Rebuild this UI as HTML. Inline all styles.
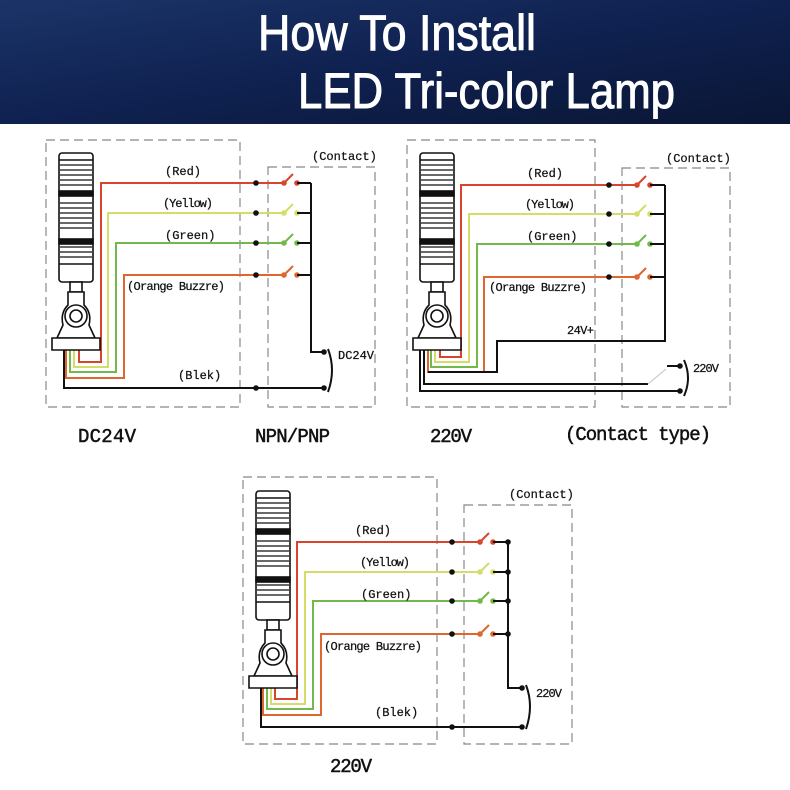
<!DOCTYPE html>
<html><head><meta charset="utf-8"><style>
html,body{margin:0;padding:0;background:#fff}
svg{display:block}
.l{font-family:"Liberation Mono",monospace;font-size:12px;fill:#111;stroke:#111;stroke-width:0.25}
.b{font-family:"Liberation Mono",monospace;font-size:19px;fill:#111;stroke:#111;stroke-width:0.5}
.d{fill:none;stroke:#888;stroke-width:1.2;stroke-dasharray:9 5}
.w{fill:none;stroke-width:2}
.k{stroke:#111}
.r{stroke:#d9452c}.y{stroke:#d6dc6a}.g{stroke:#72b84a}.o{stroke:#e0662f}
</style></head><body>
<svg width="790" height="790" viewBox="0 0 790 790" xmlns="http://www.w3.org/2000/svg">
<defs>
<linearGradient id="hg" x1="0" y1="0" x2="1" y2="1">
<stop offset="0" stop-color="#1b3468"/><stop offset="0.5" stop-color="#0f2150"/><stop offset="1" stop-color="#0a1635"/>
</linearGradient>
<g id="lamp" fill="#fff" stroke="#111" stroke-width="1.6">
<rect x="0" y="0" width="34" height="129" rx="3"/>
<line x1="0" y1="7" x2="34" y2="7"/>
<g stroke-width="1.2">
<line x1="1" y1="12" x2="33" y2="12"/><line x1="1" y1="17" x2="33" y2="17"/><line x1="1" y1="22" x2="33" y2="22"/><line x1="1" y1="27" x2="33" y2="27"/><line x1="1" y1="32" x2="33" y2="32"/>
<line x1="1" y1="50" x2="33" y2="50"/><line x1="1" y1="55" x2="33" y2="55"/><line x1="1" y1="60" x2="33" y2="60"/><line x1="1" y1="65" x2="33" y2="65"/><line x1="1" y1="70" x2="33" y2="70"/><line x1="1" y1="75" x2="33" y2="75"/>
<line x1="1" y1="94" x2="33" y2="94"/><line x1="1" y1="99" x2="33" y2="99"/><line x1="1" y1="104" x2="33" y2="104"/>
</g>
<rect x="0" y="38" width="34" height="5" fill="#111"/>
<rect x="0" y="86" width="34" height="5" fill="#111"/>
<line x1="0" y1="111" x2="34" y2="111"/>
<rect x="11" y="129" width="12" height="10"/>
<path d="M9 139 H25 V152 Q33 160 30 172 L36 185 H-2 L4 172 Q1 160 9 152 Z"/>
<circle cx="17" cy="163" r="11"/><circle cx="17" cy="163" r="6"/>
<path d="M-7 185 H41 V197 H-7 Z"/>
</g>
<g id="sw">
<circle cx="0" cy="0" r="2.8"/><circle cx="13" cy="0" r="2.8"/>
</g>
</defs>
<rect x="0" y="0" width="790" height="124" fill="url(#hg)"/>
<text x="258" y="50" font-family="Liberation Sans,sans-serif" font-size="50" fill="#fff" stroke="#fff" stroke-width="1" textLength="278" lengthAdjust="spacingAndGlyphs">How To Install</text>
<text x="298" y="108" font-family="Liberation Sans,sans-serif" font-size="50" fill="#fff" stroke="#fff" stroke-width="1" textLength="377" lengthAdjust="spacingAndGlyphs">LED Tri-color Lamp</text>

<!-- Panel 1 -->
<rect class="d" x="46" y="140" width="194" height="267"/>
<rect class="d" x="268" y="167" width="107" height="240"/>
<text class="l" x="312" y="160">(Contact)</text>
<path class="w r" d="M79 350 V362 H101 V183 H284"/>
<path class="w y" d="M74 350 V367 H108 V213 H284"/>
<path class="w g" d="M70 350 V372 H116 V243 H284"/>
<path class="w o" d="M66 350 V378 H124 V275 H284"/>
<path class="w r" d="M284 183 L293 174"/><path class="w y" d="M284 213 L293 204"/><path class="w g" d="M284 243 L293 234"/><path class="w o" d="M284 275 L293 266"/>
<g fill="#d9452c"><use href="#sw" x="284" y="183"/></g><g fill="#d6dc6a"><use href="#sw" x="284" y="213"/></g><g fill="#72b84a"><use href="#sw" x="284" y="243"/></g><g fill="#e0662f"><use href="#sw" x="284" y="275"/></g>
<path class="w k" d="M297 183 H311 M297 213 H311 M297 243 H311 M297 275 H311 M311 183 V352 H324"/>
<path class="w k" d="M64 350 V388 H324"/>
<path class="w k" d="M328 349 Q336 370 328 392"/>
<g fill="#111"><circle cx="256" cy="183" r="2.8"/><circle cx="256" cy="213" r="2.8"/><circle cx="256" cy="243" r="2.8"/><circle cx="256" cy="275" r="2.8"/><circle cx="256" cy="388" r="2.8"/><circle cx="324" cy="352" r="2.8"/><circle cx="324" cy="388" r="2.8"/></g>
<use href="#lamp" x="59" y="153"/>
<text class="l" x="165" y="175">(Red)</text>
<text class="l" x="163" y="207" textLength="50">(Yellow)</text>
<text class="l" x="165" y="239">(Green)</text>
<text class="l" x="127" y="290" textLength="98">(Orange Buzzre)</text>
<text class="l" x="178" y="379">(Blek)</text>
<text class="l" x="338" y="359" textLength="36">DC24V</text>
<text class="b" x="78" y="442" textLength="58">DC24V</text>
<text class="b" x="255" y="442" textLength="75">NPN/PNP</text>

<!-- Panel 2 -->
<rect class="d" x="407" y="140" width="188" height="267"/>
<rect class="d" x="622" y="168" width="108" height="239"/>
<text class="l" x="666" y="162">(Contact)</text>
<path class="w r" d="M440 350 V357 H461 V185 H637"/>
<path class="w y" d="M435 350 V362 H469 V214 H637"/>
<path class="w g" d="M431 350 V367 H477 V244 H637"/>
<path class="w o" d="M428 350 V372 H484 V277 H637"/>
<path class="w r" d="M637 185 L646 176"/><path class="w y" d="M637 214 L646 205"/><path class="w g" d="M637 244 L646 235"/><path class="w o" d="M637 277 L646 268"/>
<g fill="#d9452c"><use href="#sw" x="637" y="185"/></g><g fill="#d6dc6a"><use href="#sw" x="637" y="214"/></g><g fill="#72b84a"><use href="#sw" x="637" y="244"/></g><g fill="#e0662f"><use href="#sw" x="637" y="277"/></g>
<path class="w k" d="M650 185 H665 M650 214 H665 M650 244 H665 M650 277 H665 M665 185 V341 H497 V372 H428"/>
<path class="w k" d="M424 350 V384 H648"/>
<path class="w k" d="M420 350 V391 H680"/>
<path d="M648 384 L666 369" stroke="#ccc" stroke-width="1.2"/>
<path class="w k" d="M667 366 H680"/>
<path class="w k" d="M684 360 Q692 378 684 396"/>
<g fill="#111"><circle cx="609" cy="185" r="2.8"/><circle cx="609" cy="214" r="2.8"/><circle cx="609" cy="244" r="2.8"/><circle cx="609" cy="277" r="2.8"/><circle cx="680" cy="366" r="2.8"/><circle cx="680" cy="391" r="2.8"/></g>
<use href="#lamp" x="420" y="153"/>
<text class="l" x="527" y="177">(Red)</text>
<text class="l" x="525" y="208" textLength="50">(Yellow)</text>
<text class="l" x="527" y="240">(Green)</text>
<text class="l" x="489" y="291" textLength="98">(Orange Buzzre)</text>
<text class="l" x="567" y="334" textLength="27">24V+</text>
<text class="l" x="693" y="372" textLength="26">220V</text>
<text class="b" x="430" y="442" textLength="42">220V</text>
<text class="b" x="565" y="440" textLength="146">(Contact type)</text>

<!-- Panel 3 -->
<rect class="d" x="243" y="477" width="194" height="267"/>
<rect class="d" x="464" y="505" width="108" height="239"/>
<text class="l" x="509" y="498">(Contact)</text>
<path class="w r" d="M275 688 V699 H297 V542 H480"/>
<path class="w y" d="M271 688 V704 H305 V572 H480"/>
<path class="w g" d="M267 688 V709 H313 V601 H480"/>
<path class="w o" d="M263 688 V715 H321 V634 H480"/>
<path class="w r" d="M480 542 L489 533"/><path class="w y" d="M480 572 L489 563"/><path class="w g" d="M480 601 L489 592"/><path class="w o" d="M480 634 L489 625"/>
<g fill="#d9452c"><use href="#sw" x="480" y="542"/></g><g fill="#d6dc6a"><use href="#sw" x="480" y="572"/></g><g fill="#72b84a"><use href="#sw" x="480" y="601"/></g><g fill="#e0662f"><use href="#sw" x="480" y="634"/></g>
<path class="w k" d="M493 542 H508 M493 572 H508 M493 601 H508 M493 634 H508 M508 542 V688 H522"/>
<path class="w k" d="M261 688 V727 H522"/>
<path class="w k" d="M526 685 Q534 706 526 729"/>
<g fill="#111"><circle cx="452" cy="542" r="2.8"/><circle cx="452" cy="572" r="2.8"/><circle cx="452" cy="601" r="2.8"/><circle cx="452" cy="634" r="2.8"/><circle cx="452" cy="727" r="2.8"/><circle cx="508" cy="542" r="2.8"/><circle cx="508" cy="572" r="2.8"/><circle cx="508" cy="601" r="2.8"/><circle cx="508" cy="634" r="2.8"/><circle cx="522" cy="688" r="2.8"/><circle cx="522" cy="727" r="2.8"/></g>
<use href="#lamp" x="256" y="491"/>
<text class="l" x="355" y="534">(Red)</text>
<text class="l" x="360" y="566" textLength="50">(Yellow)</text>
<text class="l" x="361" y="598">(Green)</text>
<text class="l" x="324" y="650" textLength="98">(Orange Buzzre)</text>
<text class="l" x="375" y="716">(Blek)</text>
<text class="l" x="536" y="697" textLength="26">220V</text>
<text class="b" x="330" y="772" textLength="42">220V</text>
</svg>
</body></html>
